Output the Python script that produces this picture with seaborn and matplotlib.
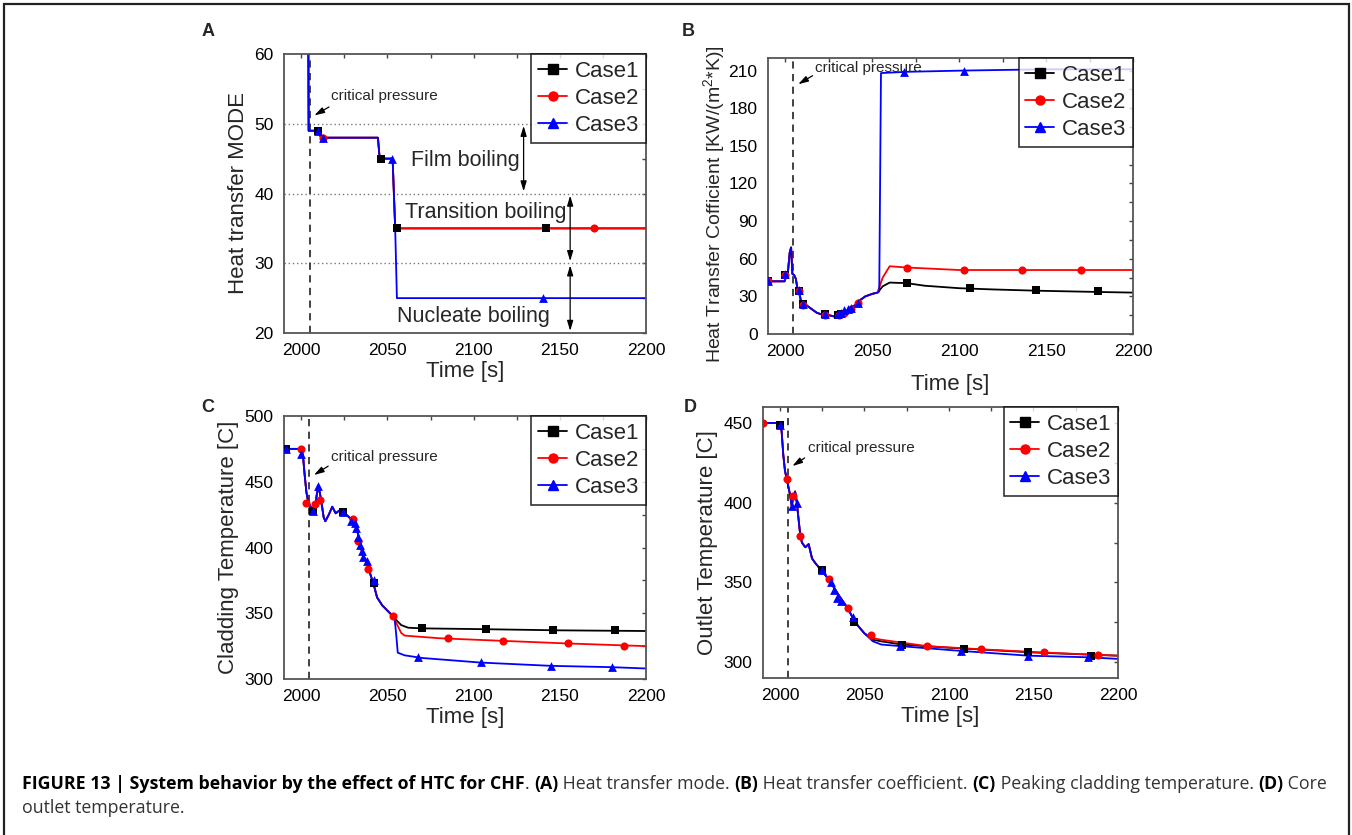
import numpy as np
import pandas as pd
import matplotlib
matplotlib.use("Agg")
import matplotlib.pyplot as plt
from matplotlib.lines import Line2D
from matplotlib.patches import Rectangle
import seaborn as sns

sns.set_theme(style="white")
plt.rcParams['font.family'] = ['Liberation Sans', 'DejaVu Sans']
plt.rcParams['mathtext.fontset'] = 'custom'
plt.rcParams['mathtext.rm'] = 'Liberation Sans'

# ---------------- data ----------------
cases = ["Case1", "Case2", "Case3"]
colors = {"Case1": "#000000", "Case2": "#ff0000", "Case3": "#0000ff"}
markers = {"Case1": "s", "Case2": "o", "Case3": "^"}

# Panel A: heat transfer mode
tA_12 = [1990, 2004, 2004.3, 2010, 2011.5, 2044.5, 2045.5, 2053, 2054.5, 2200]
modeA_1 = [70, 70, 49, 49, 48, 48, 45, 45, 35, 35]
modeA_2 = [70, 70, 49, 49, 48, 48, 45, 45, 35, 35]
tA_3 = [1990, 2004, 2004.3, 2010, 2011.5, 2044.5, 2045.5, 2053, 2054.5, 2055.5, 2200]
modeA_3 = [70, 70, 49, 49, 48, 48, 45, 45, 35, 25, 25]
mkA_t1 = [2010, 2046, 2055.5, 2142]; mkA_v1 = [49, 45, 35, 35]
mkA_t2 = [2012.5, 2170]; mkA_v2 = [48, 35]
mkA_t3 = [2010, 2012.5, 2052.5, 2140]; mkA_v3 = [49, 48, 45, 25]

# Panel B: heat transfer coefficient
tB_common = [1990, 1999.5, 2000.5, 2001.5, 2002.5, 2003.3, 2004, 2005, 2006, 2007, 2008, 2009, 2010,
             2012, 2015, 2018, 2022, 2025, 2028, 2030, 2032, 2035, 2038, 2040, 2043, 2046, 2050, 2053]
hB_common = [42, 42, 47, 50, 65, 69, 48, 47, 44, 36, 33, 26, 24,
             23, 20, 17, 15, 15, 14, 15, 16, 18, 21, 23, 27, 30, 32, 33]
tB_1 = tB_common + [2056, 2060, 2070, 2080, 2100, 2120, 2145, 2180, 2200]
hB_1 = hB_common + [38, 41, 40.5, 38.5, 36.5, 35.5, 34.5, 33.5, 33]
tB_2 = tB_common + [2056, 2060, 2070, 2100, 2150, 2200]
hB_2 = hB_common + [45, 54, 53, 51, 51, 51]
tB_3 = tB_common + [2054, 2055, 2070, 2103, 2150, 2200]
hB_3 = hB_common + [34, 208, 209, 210, 211, 211]
mkB_t1 = [1990, 2000, 2008, 2010, 2023, 2030, 2032, 2070, 2106, 2144, 2180]
mkB_v1 = [42, 47, 34, 24, 16, 15, 16, 41, 37, 35, 34]
mkB_t2 = [1990, 2000, 2008, 2010, 2023, 2031, 2034, 2038, 2042, 2070, 2103, 2136, 2170]
mkB_v2 = [42, 47, 34, 23, 15, 15, 17, 20, 25, 53, 51, 51, 51]
mkB_t3 = [1990, 2000, 2008, 2010, 2023, 2030, 2032, 2034, 2036, 2038, 2042, 2068, 2103]
mkB_v3 = [42, 48, 35, 24, 16, 16, 17, 19, 20, 21, 25, 209, 210]

# Panel C: cladding temperature
tC_common = [1990, 2000, 2001, 2002, 2003, 2004, 2005, 2007, 2008, 2009, 2010, 2011, 2012, 2013,
             2014, 2016, 2018, 2020, 2022, 2024, 2027, 2030, 2031, 2032, 2033, 2034, 2035, 2036,
             2038, 2040, 2042, 2044, 2047, 2050, 2053]
TC_common = [475, 475, 470, 455, 442, 435, 432, 428, 430, 440, 447, 440, 432, 423,
             420, 425, 431, 426, 428, 427, 424, 420, 418, 415, 410, 403, 398, 393,
             390, 380, 372, 362, 356, 352, 348]
tC_1 = tC_common + [2055, 2058, 2062, 2070, 2100, 2150, 2200]
TC_1 = TC_common + [345, 341, 339, 338.5, 338, 337, 336.5]
tC_2 = tC_common + [2055, 2058, 2060, 2080, 2117, 2155, 2200]
TC_2 = TC_common + [343, 335, 333, 331, 329, 327, 325]
tC_3 = tC_common + [2054, 2055, 2056, 2060, 2070, 2104, 2145, 2180, 2200]
TC_3 = TC_common + [348, 335, 320, 318, 316, 312.5, 310, 309, 308]
mkC_t1 = [1991, 2007, 2024, 2042, 2070, 2107, 2146, 2182]
mkC_v1 = [475, 428, 427, 373, 339, 338, 337, 337]
mkC_t2 = [2000, 2003, 2008, 2011, 2030, 2033, 2039, 2053, 2085, 2117, 2155, 2187]
mkC_v2 = [475, 434, 433, 436, 422, 405, 384, 348, 331, 329, 327, 325]
mkC_t3 = [1991, 2000, 2007, 2010, 2024, 2029, 2031, 2032, 2033, 2034, 2035, 2036, 2038, 2042,
          2068, 2104, 2145, 2180]
mkC_v3 = [475, 471, 428, 447, 427, 420, 419, 415, 408, 402, 397, 393, 390, 375,
          317, 313, 310, 309]

# Panel D: outlet temperature
tD_common = [1990, 2000, 2001, 2002, 2003, 2004, 2005, 2006, 2007, 2008, 2009, 2010, 2011, 2012,
             2013, 2015, 2017, 2019, 2021, 2025, 2028, 2030, 2033, 2036, 2040, 2043, 2046, 2050]
TD_common = [450, 450, 445, 430, 420, 415, 410, 405, 398, 404, 407, 400, 390, 380,
             375, 372, 374, 365, 362, 357, 353, 350, 345, 340, 334, 328, 323, 318]
tD_1 = tD_common + [2055, 2060, 2072, 2100, 2150, 2200]
TD_1 = TD_common + [314, 313, 311, 309, 306, 304]
tD_2 = tD_common + [2055, 2060, 2087, 2119, 2156, 2188, 2200]
TD_2 = TD_common + [315, 314, 310, 308, 306, 304.5, 304]
tD_3 = tD_common + [2055, 2060, 2071, 2107, 2147, 2182, 2200]
TD_3 = TD_common + [313, 311, 310, 307, 304, 303, 302]
mkD_t1 = [2000, 2025, 2044, 2072, 2109, 2147, 2184]
mkD_v1 = [449, 358, 325, 311, 308, 306, 304]
mkD_t2 = [1990, 2004, 2008, 2012, 2029, 2040, 2054, 2087, 2119, 2156, 2188]
mkD_v2 = [450, 415, 404, 379, 352, 334, 317, 310, 308, 306, 304.5]
mkD_t3 = [2000, 2007, 2010, 2025, 2030, 2032, 2034, 2036, 2043, 2071, 2107, 2147, 2182]
mkD_v3 = [449, 398, 400, 358, 350, 345, 340, 338, 328, 310, 307, 304, 303]

# ---------------- figure ----------------
W, H = 1352, 835
fig = plt.figure(figsize=(W / 100, H / 100), dpi=100)
fig.patch.set_facecolor("white")


def px_axes(l, t, r, b):
    return fig.add_axes([l / W, 1 - b / H, (r - l) / W, (b - t) / H])


axA = px_axes(284, 54, 646, 333)
axB = px_axes(768, 58, 1133, 334)
axC = px_axes(284, 416, 646, 679)
axD = px_axes(763, 407, 1118, 678)


def draw_panel(ax, lines, mks):
    for c, (t, v) in zip(cases, lines):
        df = pd.DataFrame({"t": t, "v": v})
        sns.lineplot(data=df, x="t", y="v", ax=ax, color=colors[c], lw=1.3,
                     estimator=None, sort=False, legend=False)
    for c, (t, v) in zip(cases, mks):
        df = pd.DataFrame({"t": t, "v": v})
        sns.scatterplot(data=df, x="t", y="v", ax=ax, color=colors[c], marker=markers[c],
                        s=34 if markers[c] != "^" else 40, edgecolor=colors[c], linewidth=0,
                        legend=False, zorder=3)


draw_panel(axA, [(tA_12, modeA_1), (tA_12, modeA_2), (tA_3, modeA_3)],
           [(mkA_t1, mkA_v1), (mkA_t2, mkA_v2), (mkA_t3, mkA_v3)])
draw_panel(axB, [(tB_1, hB_1), (tB_2, hB_2), (tB_3, hB_3)],
           [(mkB_t1, mkB_v1), (mkB_t2, mkB_v2), (mkB_t3, mkB_v3)])
draw_panel(axC, [(tC_1, TC_1), (tC_2, TC_2), (tC_3, TC_3)],
           [(mkC_t1, mkC_v1), (mkC_t2, mkC_v2), (mkC_t3, mkC_v3)])
draw_panel(axD, [(tD_1, TD_1), (tD_2, TD_2), (tD_3, TD_3)],
           [(mkD_t1, mkD_v1), (mkD_t2, mkD_v2), (mkD_t3, mkD_v3)])

specs = [
    (axA, (20, 60), np.arange(20, 61, 10), "Heat transfer MODE", 16, 2005, (2048, 54), (2017.5, 52.6), (2006.2, 51)),
    (axB, (0, 220), np.arange(0, 211, 30), r"Heat Transfer Cofficient [KW/(m$^{2}$*K)]", 15, 2004.5,
     (2048, 212), (2017, 207), (2006, 198)),
    (axC, (300, 500), np.arange(300, 501, 50), "Cladding Temperature [C]", 16, 2004.6,
     (2048, 469), (2017, 463), (2006, 454)),
    (axD, (290, 460), np.arange(300, 451, 50), "Outlet Temperature [C]", 16, 2004.5,
     (2048, 434), (2016, 429), (2006, 422)),
]

for ax, ylim, yt, ylab, ylfs, xcrit, txy, a0, a1 in specs:
    ax.set_xlim(1990, 2200)
    ax.set_ylim(*ylim)
    ax.set_xticks([2000, 2050, 2100, 2150, 2200])
    ax.set_xticks([2025, 2075, 2125, 2175], minor=True)
    ax.set_yticks(yt)
    step = yt[1] - yt[0]
    ax.set_yticks(np.arange(yt[0] + step / 2, ylim[1], step), minor=True)
    ax.tick_params(axis="both", which="major", direction="out", length=4, width=1,
                   labelsize=12.5, colors="#444444", labelcolor="black")
    ax.tick_params(axis="both", which="minor", direction="out", length=2.5, width=1, colors="#444444")
    ax.set_xlabel("Time [s]", fontsize=16, labelpad=2)
    ax.set_ylabel(ylab, fontsize=ylfs, labelpad=4)
    for s in ax.spines.values():
        s.set_color("#555555")
        s.set_linewidth(1.3)
    # mirrored inward ticks on top/right
    axt = ax.secondary_xaxis("top")
    axt.set_xticks([2000, 2025, 2050, 2075, 2100, 2125, 2150, 2175, 2200])
    axt.tick_params(direction="in", length=3, width=1, colors="#444444", labeltop=False)
    axt.spines["top"].set_visible(False)
    axr = ax.secondary_yaxis("right")
    axr.set_yticks(np.arange(yt[0], ylim[1] + 0.1, step / 2))
    axr.tick_params(direction="in", length=3, width=1, colors="#444444", labelright=False)
    axr.spines["right"].set_visible(False)
    ax.axvline(xcrit, color="#333333", ls=(0, (4, 3)), lw=1.3, zorder=1)
    ax.text(txy[0], txy[1], "critical pressure", fontsize=11, ha="center", va="center")
    ax.annotate("", xy=a1, xytext=a0,
                arrowprops=dict(arrowstyle="-|>,head_length=0.5,head_width=0.15", color="black", lw=0.9))
    handles = [Line2D([], [], color=colors[c], marker=markers[c], markersize=6.5, lw=1.3) for c in cases]
    leg = ax.legend(handles, cases, loc="upper right", fontsize=16, frameon=True, fancybox=False,
                    borderaxespad=0, handlelength=1.3, handletextpad=0.35, borderpad=0.3,
                    labelspacing=0.28)
    leg.get_frame().set_edgecolor("black")
    leg.get_frame().set_linewidth(1.2)

renderer = fig.canvas.get_renderer()

# Panel B label placement: fit the y label to span ~318 px centred ~204 px from top
lab = axB.yaxis.label
span = lab.get_window_extent(renderer=renderer).height
lab.set_fontsize(15 * 318 / span)
axB.yaxis.set_label_coords(-0.145, 0.471)
lab.set_verticalalignment("center")
lab.set_horizontalalignment("center")
axB.xaxis.set_label_coords(0.5, -0.145)

# Panel A extras
for y in [30, 40, 50]:
    axA.axhline(y, color="#777777", ls=(0, (1, 2)), lw=1.0, zorder=0.5)
axA.text(2095, 44.8, "Film boiling", fontsize=15.5, ha="center", va="center")
axA.text(2107, 37.3, "Transition boiling", fontsize=15.5, ha="center", va="center")
axA.text(2100, 22.4, "Nucleate boiling", fontsize=15.5, ha="center", va="center")
arrow_kw = dict(arrowstyle="<|-|>,head_length=0.5,head_width=0.15", color="black", lw=0.9,
                shrinkA=0, shrinkB=0)
axA.annotate("", xy=(2129, 40.3), xytext=(2129, 49.7), arrowprops=arrow_kw)
axA.annotate("", xy=(2156, 30.3), xytext=(2156, 39.7), arrowprops=arrow_kw)
axA.annotate("", xy=(2156, 20.3), xytext=(2156, 29.7), arrowprops=arrow_kw)

# panel letters
for lb, x, y in [("A", 208, 32), ("B", 688, 32), ("C", 208, 408), ("D", 690, 408)]:
    fig.text(x / W, 1 - y / H, lb, fontsize=13, fontweight="bold", ha="center", va="center")

# frame
fig.add_artist(Rectangle((4 / W, -0.01), (1349 - 4) / W, 1 - 4 / H + 0.01, transform=fig.transFigure,
                         fill=False, edgecolor="#222222", lw=1.6))

# caption
pieces = [("FIGURE 13 | System behavior by the effect of HTC for CHF", "bold", "black"),
          (". ", "normal", "#333333"), ("(A)", "bold", "black"),
          (" Heat transfer mode. ", "normal", "#333333"), ("(B)", "bold", "black"),
          (" Heat transfer coefficient. ", "normal", "#333333"), ("(C)", "bold", "black"),
          (" Peaking cladding temperature. ", "normal", "#333333"), ("(D)", "bold", "black"),
          (" Core", "normal", "#333333")]
cap_family = ["Open Sans", "DejaVu Sans"]


def draw_caption(fs):
    x = 22
    y1 = 1 - 789 / H
    arts = []
    for txt, wt, col in pieces:
        t = fig.text(x / W, y1, txt, fontsize=fs, fontweight=wt, color=col, ha="left",
                     va="baseline", family=cap_family)
        bb = t.get_window_extent(renderer=renderer)
        x += bb.width
        arts.append(t)
    return arts, x


arts, xend = draw_caption(11)
for a in arts:
    a.remove()
fs_cap = 11 * (1330 - 22) / (xend - 22)
draw_caption(fs_cap)
fig.text(22 / W, 1 - 813 / H, "outlet temperature.", fontsize=fs_cap, color="#333333", ha="left",
         va="baseline", family=cap_family)

fig.savefig("out.png", dpi=100)
